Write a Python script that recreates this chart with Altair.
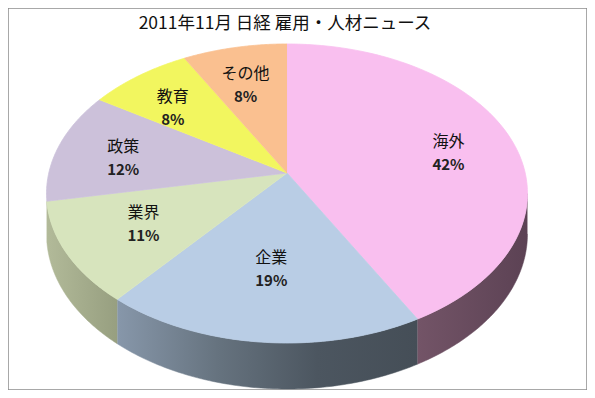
import altair as alt
import pandas as pd

# ---- data ----
categories = ["海外", "企業", "業界", "政策", "教育", "その他"]
values = [42, 19, 11, 12, 8, 8]
title_text = "2011年11月 日経 雇用・人材ニュース"

# ---- style ----
top_colors = ["#F9BFEF", "#B9CDE5", "#D7E4BD", "#CCC1DA", "#F2F65F", "#FAC090"]
side_grads = {
    "海外": ["#735467", "#5C4254"],
    "企業": ["#8797AA", "#66737F", "#4C5660", "#454E57"],
    "業界": ["#B2BA99", "#979F80"],
}
FONT = "Noto Sans CJK JP"
W, H = 579, 382
# perspective ellipse: apex (CX, CY), half-axes A, B, perspective factor K
CX, CY, A, B, K, DEPTH = 279, 165, 238.2, 146.7, 0.137, 46
N = 80

df = pd.DataFrame({"category": categories, "value": values, "idx": list(range(len(categories)))})

xs = alt.X("px:Q", scale=alt.Scale(domain=[0, W], nice=False, zero=False), axis=None)
ys = alt.Y("py:Q", scale=alt.Scale(domain=[0, H], nice=False, zero=False, reverse=True), axis=None)

base = alt.Chart(df).transform_window(
    cum="sum(value)", sort=[alt.SortField("idx")], frame=[None, 0]
).transform_joinaggregate(total="sum(value)").transform_calculate(
    a0="2*PI*(datum.cum - datum.value)/datum.total",
    a1="2*PI*datum.cum/datum.total",
)

# top face wedges
top = base.transform_calculate(step=f"sequence(-1, {N + 1})").transform_flatten(["step"]).transform_calculate(
    t=f"datum.a0 + (datum.a1 - datum.a0) * max(datum.step, 0) / {N}",
).transform_calculate(
    dn=f"1 + {K} * cos(datum.t)",
).transform_calculate(
    px=f"datum.step < 0 ? {CX} : {CX} + {A} * sin(datum.t) / datum.dn",
    py=f"datum.step < 0 ? {CY} : {CY} - {B} * cos(datum.t) / datum.dn",
).mark_line(strokeWidth=0.8).encode(
    x=xs, y=ys, order="step:Q",
    fill=alt.Fill("category:N", scale=alt.Scale(domain=categories, range=top_colors), legend=None),
    stroke=alt.Stroke("category:N", scale=alt.Scale(domain=categories, range=top_colors), legend=None),
    detail="category:N",
)

# side walls (front, visible part only)
side_base = base.transform_calculate(
    s0=f"max(datum.a0, acos(-{K}))", s1=f"min(datum.a1, 2*PI - acos(-{K}))"
).transform_filter("datum.s1 > datum.s0").transform_calculate(
    step=f"sequence(0, {2 * N + 2})"
).transform_flatten(["step"]).transform_calculate(
    k=f"datum.step <= {N} ? datum.step : {2 * N + 1} - datum.step",
).transform_calculate(
    t=f"datum.s0 + (datum.s1 - datum.s0) * datum.k / {N}",
).transform_calculate(
    dn=f"1 + {K} * cos(datum.t)",
).transform_calculate(
    px=f"{CX} + {A} * sin(datum.t) / datum.dn",
    py=f"{CY} - {B} * cos(datum.t) / datum.dn + (datum.step > {N} ? {DEPTH} * (1 - {K}) / datum.dn : 0)",
)

sides = []
for cat, cols in side_grads.items():
    stops = [alt.GradientStop(color=c, offset=i / (len(cols) - 1)) for i, c in enumerate(cols)]
    grad = alt.LinearGradient(gradient="linear", stops=stops, x1=0, x2=1, y1=0, y2=0)
    sides.append(
        side_base.transform_filter(alt.datum.category == cat)
        .mark_line(fill=grad, stroke=grad, strokeWidth=0.5)
        .encode(x=xs, y=ys, order="step:Q")
    )

# labels
lab = base.transform_calculate(
    m="(datum.a0 + datum.a1)/2",
).transform_calculate(
    px=f"{CX} + {A}*0.7*sin(datum.m)",
    py=f"{CY} + 3 - {B}*0.64*cos(datum.m)",
    pct="format(datum.value/datum.total, '.0%')",
)
names = lab.mark_text(dy=-11, fontSize=16, font=FONT, color="#111").encode(x=xs, y=ys, text="category:N")
pcts = lab.mark_text(dy=12, fontSize=15, fontWeight="bold", font=FONT, color="#222").encode(x=xs, y=ys, text="pct:N")

title_layer = alt.Chart(pd.DataFrame({"title": [title_text]})).mark_text(
    fontSize=17.5, font=FONT, color="#111"
).encode(x=alt.value(277), y=alt.value(16), text="title:N")

chart = alt.layer(*sides, top, names, pcts, title_layer).properties(
    width=W, height=H, padding=0, autosize="none"
).configure_view(stroke="#8c8c8c", strokeWidth=1.5)

chart.save("out.html", embed_options={"renderer": "svg", "actions": False})
